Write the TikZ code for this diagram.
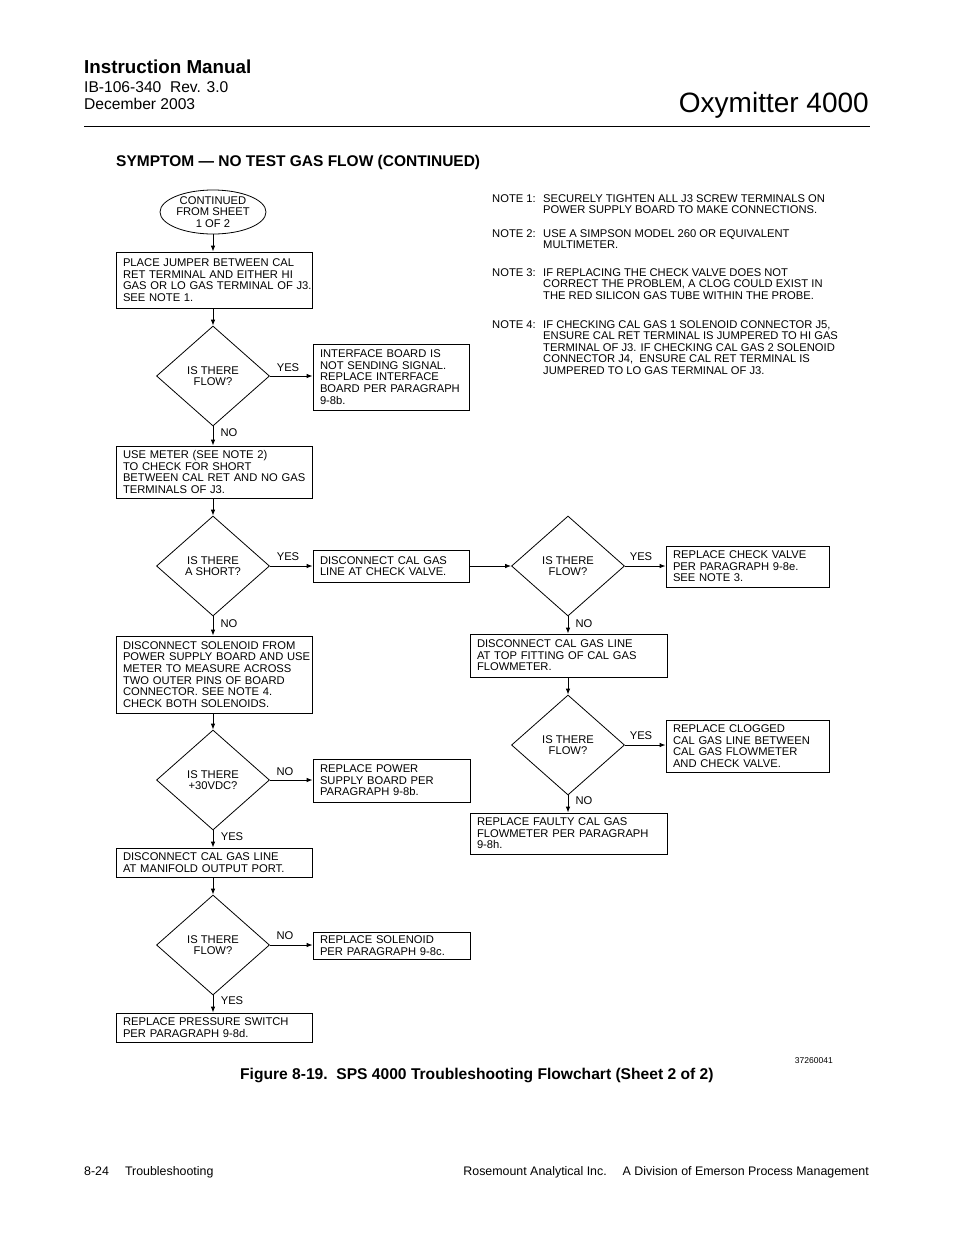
\documentclass[tikz,border=0pt]{standalone}
\usepackage{fontspec}
\setmainfont{Liberation Sans}
\usetikzlibrary{shapes.geometric,arrows.meta}
\newcommand\tl[1]{\raisebox{0pt}[\height][\dimexpr\depth-3pt\relax]{\begin{tabular}{@{}l@{}}#1\end{tabular}}}
\tikzset{
  x=1pt,y=-1pt,
  fc/.style={font=\fontsize{11.2}{11.6}\selectfont},
  box/.style={fc,draw,line width=0.8pt,rectangle,align=left,inner xsep=7pt,inner ysep=0pt},
  dia/.style={fc,draw,line width=0.8pt,diamond,inner sep=0pt,minimum width=113pt,minimum height=100pt,align=center},
  ell/.style={fc,draw,line width=0.8pt,ellipse,inner sep=0pt,minimum width=106pt,minimum height=38pt,align=center},
  lbl/.style={fc,inner sep=0pt},
  arr/.style={line width=0.8pt,-{Latex[length=6pt,width=4.5pt]}},
  note/.style={fc,inner sep=0pt,align=left,anchor=north west}
}
\begin{document}
\begin{tikzpicture}
\useasboundingbox (0,0) rectangle (954,1235);
\fill[white] (0,0) rectangle (954,1235);
% header
\node[inner sep=0pt,anchor=base west,font=\bfseries\fontsize{18.8}{22}\selectfont] (hdr1) at (84,73.5) {Instruction Manual};
\node[inner sep=0pt,anchor=base west,font=\fontsize{15.6}{17}\selectfont] (hdr2) at (84,92) {IB-106-340\ \ Rev. 3.0};
\node[inner sep=0pt,anchor=base west,font=\fontsize{15.6}{17}\selectfont] (hdr3) at (84,109) {December 2003};
\node[inner sep=0pt,anchor=base east,font=\fontsize{28}{32}\selectfont] (hdr4) at (869,112) {Oxymitter 4000};
\draw[line width=0.9pt] (84,126) -- (870,126);
\node[inner sep=0pt,anchor=base west,font=\bfseries\fontsize{15.5}{17}\selectfont] (sym) at (116,166.5) {SYMPTOM — NO TEST GAS FLOW (CONTINUED)};

% notes
\node[note] (n1l) at (492,194) {NOTE 1:};
\node[note] (n1) at (543,194) {SECURELY TIGHTEN ALL J3 SCREW TERMINALS ON\\POWER SUPPLY BOARD TO MAKE CONNECTIONS.};
\node[note] (n2l) at (492,229) {NOTE 2:};
\node[note] (n2) at (543,229) {USE A SIMPSON MODEL 260 OR EQUIVALENT\\MULTIMETER.};
\node[note] (n3l) at (492,268) {NOTE 3:};
\node[note] (n3) at (543,268) {IF REPLACING THE CHECK VALVE DOES NOT\\CORRECT THE PROBLEM, A CLOG COULD EXIST IN\\THE RED SILICON GAS TUBE WITHIN THE PROBE.};
\node[note] (n4l) at (492,320) {NOTE 4:};
\node[note] (n4) at (543,320) {IF CHECKING CAL GAS 1 SOLENOID CONNECTOR J5,\\ENSURE CAL RET TERMINAL IS JUMPERED TO HI GAS\\TERMINAL OF J3. IF CHECKING CAL GAS 2 SOLENOID\\CONNECTOR J4,\ \ ENSURE CAL RET TERMINAL IS\\JUMPERED TO LO GAS TERMINAL OF J3.};

% flowchart nodes
\node[ell] (start) at (213,212) {CONTINUED\\FROM SHEET\\1 OF 2};
\node[box,text width=182pt,minimum height=56pt] (b1) at (214,280) {\tl{PLACE JUMPER BETWEEN CAL\\RET TERMINAL AND EITHER HI\\GAS OR LO GAS TERMINAL OF J3.\\SEE NOTE 1.}};
\node[dia] (d1) at (213,376) {IS THERE\\FLOW?};
\node[box,text width=142pt,minimum height=66pt] (b2) at (391,377) {\tl{INTERFACE BOARD IS\\NOT SENDING SIGNAL.\\REPLACE INTERFACE\\BOARD PER PARAGRAPH\\9-8b.}};
\node[box,text width=182pt,minimum height=52pt] (b3) at (214,472) {\tl{USE METER (SEE NOTE 2)\\TO CHECK FOR SHORT\\BETWEEN CAL RET AND NO GAS\\TERMINALS OF J3.}};
\node[dia] (d2) at (213,566) {IS THERE\\A SHORT?};
\node[box,text width=142pt,minimum height=32pt] (b4) at (391,566) {\tl{DISCONNECT CAL GAS\\LINE AT CHECK VALVE.}};
\node[dia] (d3) at (568,566) {IS THERE\\FLOW?};
\node[box,text width=149pt,minimum height=41pt] (b5) at (747.5,566.5) {\tl{REPLACE CHECK VALVE\\PER PARAGRAPH 9-8e.\\SEE NOTE 3.}};
\node[box,text width=183pt,minimum height=43pt] (b6) at (568.5,655.5) {\tl{DISCONNECT CAL GAS LINE\\AT TOP FITTING OF CAL GAS\\FLOWMETER.}};
\node[dia] (d4) at (568,745) {IS THERE\\FLOW?};
\node[box,text width=149pt,minimum height=52pt] (b7) at (747.5,746) {\tl{REPLACE CLOGGED\\CAL GAS LINE BETWEEN\\CAL GAS FLOWMETER\\AND CHECK VALVE.}};
\node[box,text width=183pt,minimum height=41pt] (b8) at (568.5,833.5) {\tl{REPLACE FAULTY CAL GAS\\FLOWMETER PER PARAGRAPH\\9-8h.}};
\node[box,text width=182pt,minimum height=77pt] (b9) at (214,674.5) {\tl{DISCONNECT SOLENOID FROM\\POWER SUPPLY BOARD AND USE\\METER TO MEASURE ACROSS\\TWO OUTER PINS OF BOARD\\CONNECTOR. SEE NOTE 4.\\CHECK BOTH SOLENOIDS.}};
\node[dia] (d5) at (213,780) {IS THERE\\+30VDC?};
\node[box,text width=143pt,minimum height=43pt] (b10) at (391.5,780.5) {\tl{REPLACE POWER\\SUPPLY BOARD PER\\PARAGRAPH 9-8b.}};
\node[box,text width=182pt,minimum height=29pt] (b11) at (214,862.5) {\tl{DISCONNECT CAL GAS LINE\\AT MANIFOLD OUTPUT PORT.}};
\node[dia] (d6) at (213,945) {IS THERE\\FLOW?};
\node[box,text width=143pt,minimum height=27pt] (b12) at (391.5,945.5) {\tl{REPLACE SOLENOID\\PER PARAGRAPH 9-8c.}};
\node[box,text width=182pt,minimum height=29pt] (b13) at (214,1027.5) {\tl{REPLACE PRESSURE SWITCH\\PER PARAGRAPH 9-8d.}};

% connectors
\draw[arr] (start.south) -- (start.south |- b1.north);
\draw[arr] (start.south |- b1.south) -- (d1.north);
\draw[arr] (d1.east) -- (d1.east -| b2.west);
\draw[arr] (d1.south) -- (d1.south |- b3.north);
\draw[arr] (d1.south |- b3.south) -- (d2.north);
\draw[arr] (d2.east) -- (d2.east -| b4.west);
\draw[arr] (b4.east |- d3.west) -- (d3.west);
\draw[arr] (d3.east) -- (d3.east -| b5.west);
\draw[arr] (d3.south) -- (d3.south |- b6.north);
\draw[arr] (d3.south |- b6.south) -- (d4.north);
\draw[arr] (d4.east) -- (d4.east -| b7.west);
\draw[arr] (d4.south) -- (d4.south |- b8.north);
\draw[arr] (d2.south) -- (d2.south |- b9.north);
\draw[arr] (d2.south |- b9.south) -- (d5.north);
\draw[arr] (d5.east) -- (d5.east -| b10.west);
\draw[arr] (d5.south) -- (d5.south |- b11.north);
\draw[arr] (d5.south |- b11.south) -- (d6.north);
\draw[arr] (d6.east) -- (d6.east -| b12.west);
\draw[arr] (d6.south) -- (d6.south |- b13.north);

% labels
\node[lbl] (y1) at (288,368) {YES};
\node[lbl] (no1) at (229,433) {NO};
\node[lbl] (y2) at (288,557) {YES};
\node[lbl] (no2) at (229,624) {NO};
\node[lbl] (y3) at (641,557) {YES};
\node[lbl] (no3) at (584,624) {NO};
\node[lbl] (y4) at (641,736) {YES};
\node[lbl] (no4) at (584,801) {NO};
\node[lbl] (no5) at (285,772) {NO};
\node[lbl] (y5) at (232,837) {YES};
\node[lbl] (no6) at (285,936) {NO};
\node[lbl] (y6) at (232,1001) {YES};

% caption and footer
\node[inner sep=0pt,anchor=base east,font=\fontsize{8.5}{9}\selectfont] (num) at (833,1063) {37260041};
\node[inner sep=0pt,anchor=base west,font=\bfseries\fontsize{15.6}{17}\selectfont] (cap) at (240,1079) {Figure 8-19.\ \ SPS 4000 Troubleshooting Flowchart (Sheet 2 of 2)};
\node[inner sep=0pt,anchor=base west,font=\fontsize{12.4}{14}\selectfont] (f1) at (84,1175) {8-24\hspace{16pt}Troubleshooting};
\node[inner sep=0pt,anchor=base east,font=\fontsize{12.4}{14}\selectfont] (f2) at (869,1175) {Rosemount Analytical Inc.\hspace{16pt}A Division of Emerson Process Management};
\end{tikzpicture}
\end{document}
